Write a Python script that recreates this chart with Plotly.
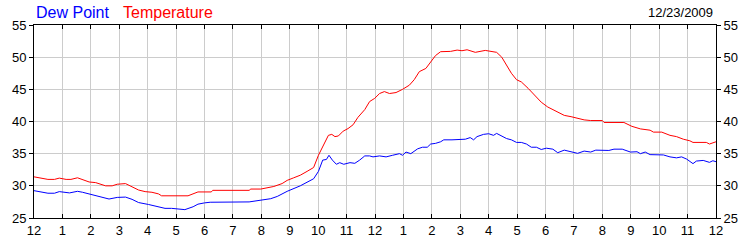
import plotly.graph_objects as go

# ---- data (hours since midnight, values in °F) ----
temp_hours = [0.0, 0.31, 0.49, 0.72, 0.89, 1.13, 1.30, 1.53, 1.71, 1.94, 2.17, 2.40, 2.52, 2.75,
              2.93, 3.22, 3.45, 3.68, 3.91, 4.15, 4.38, 4.49, 5.42, 5.60, 5.77, 6.24, 6.29, 7.57,
              7.63, 7.98, 8.21, 8.44, 8.73, 8.91, 9.14, 9.37, 9.61, 9.84, 10.01, 10.18, 10.36,
              10.48, 10.59, 10.71, 10.88, 11.05, 11.23, 11.40, 11.64, 11.81, 11.99, 12.16, 12.33,
              12.51, 12.74, 12.97, 13.21, 13.38, 13.56, 13.79, 13.96, 14.13, 14.31, 14.66, 14.89,
              15.06, 15.24, 15.53, 15.88, 16.11, 16.28, 16.46, 16.63, 16.80, 16.98, 17.15, 17.39,
              17.62, 17.85, 18.08, 18.26, 18.43, 18.66, 18.90, 19.13, 19.36, 19.59, 20.00, 20.06,
              20.76, 21.04, 21.34, 21.68, 21.80, 22.09, 22.38, 22.61, 22.85, 23.08, 23.19, 23.66,
              23.77, 24.0]
temperature = [31.4, 31.2, 31.0, 31.0, 31.2, 31.0, 31.0, 31.25, 31.0, 30.6, 30.5, 30.2, 30.0, 30.0,
               30.25, 30.35, 29.9, 29.35, 29.1, 29.0, 28.75, 28.45, 28.45, 28.75, 29.05, 29.05, 29.3, 29.3,
               29.5, 29.5, 29.75, 29.9, 30.35, 30.85, 31.25, 31.65, 32.25, 32.85, 34.75, 36.35, 37.85,
               38.0, 37.65, 37.75, 38.5, 38.9, 39.5, 40.65, 41.85, 43.1, 43.6, 44.35, 44.65,
               44.35, 44.5, 45.0, 45.65, 46.5, 47.75, 48.25, 49.25, 50.25, 50.85, 50.9, 51.1,
               51.0, 51.15, 50.75, 51.05, 50.9, 50.75, 50.0, 48.75, 47.5, 46.5, 46.15, 45.15,
               44.0, 43.0, 42.25, 41.85, 41.35, 40.95, 40.75, 40.5, 40.25, 40.15, 40.15, 39.85,
               39.85, 39.25, 38.85, 38.65, 38.35, 38.35, 37.85, 37.65, 37.25, 37.0, 36.75, 36.75,
               36.5, 36.85]

dew_hours = [0.0, 0.31, 0.49, 0.72, 0.89, 1.25, 1.53, 1.71, 2.05, 2.40, 2.64, 2.93, 3.22, 3.45,
             3.68, 4.03, 4.38, 4.61, 4.84, 5.07, 5.31, 5.60, 5.77, 6.0, 6.2, 7.57, 7.98, 8.33,
             8.56, 8.91, 9.37, 9.66, 9.84, 10.01, 10.16, 10.29, 10.38, 10.50, 10.64, 10.76, 10.90,
             11.12, 11.29, 11.46, 11.64, 11.81, 11.93, 12.16, 12.39, 12.62, 12.86, 12.97, 13.09,
             13.26, 13.50, 13.67, 13.84, 13.96, 14.13, 14.31, 14.42, 14.71, 14.95, 15.18, 15.35,
             15.47, 15.59, 15.82, 16.0, 16.17, 16.28, 16.46, 16.63, 16.80, 16.98, 17.15, 17.33,
             17.50, 17.68, 17.85, 18.03, 18.26, 18.43, 18.66, 18.90, 19.13, 19.36, 19.59, 19.77,
             20.23, 20.41, 20.70, 20.99, 21.22, 21.34, 21.51, 21.68, 21.92, 22.15, 22.38, 22.61,
             22.79, 22.97, 23.19, 23.31, 23.55, 23.77, 23.89, 24.0]
dew_point = [29.25, 29.0, 28.85, 28.85, 29.1, 28.9, 29.15, 29.0, 28.6, 28.15, 27.95, 28.2, 28.25, 27.9,
             27.4, 27.1, 26.7, 26.5, 26.5, 26.45, 26.3, 26.75, 27.15, 27.35, 27.45, 27.5, 27.75, 28.0,
             28.35, 29.15, 30.0, 30.75, 31.1, 32.25, 34.0, 34.1, 34.75, 34.0, 33.35, 33.6, 33.35,
             33.6, 33.5, 34.0, 34.65, 34.65, 34.5, 34.65, 34.5, 34.75, 35.0, 34.75, 35.25,
             35.0, 35.75, 36.0, 36.0, 36.5, 36.6, 36.85, 37.15, 37.15, 37.25, 37.25, 37.5,
             37.15, 37.65, 38.0, 38.1, 37.85, 38.15, 37.75, 37.35, 37.15, 36.75, 36.75, 36.5,
             36.0, 36.0, 35.65, 35.85, 35.7, 35.15, 35.55, 35.35, 35.05, 35.4, 35.25, 35.55,
             35.5, 35.7, 35.7, 35.25, 35.3, 35.0, 35.25, 34.85, 34.8, 34.8, 34.5, 34.35,
             34.5, 34.15, 33.45, 33.85, 33.95, 33.65, 33.9, 33.75]

x_tick_vals = list(range(0, 25))
x_tick_text = ["12", "1", "2", "3", "4", "5", "6", "7", "8", "9", "10", "11",
               "12", "1", "2", "3", "4", "5", "6", "7", "8", "9", "10", "11", "12"]
y_tick_vals = [25, 30, 35, 40, 45, 50, 55]
date_label = "12/23/2009"

FONT = "Liberation Sans, Arial, sans-serif"

fig = go.Figure()
fig.add_trace(go.Scatter(x=dew_hours, y=dew_point, mode="lines", name="Dew Point",
                         line=dict(color="#0000FF", width=1), showlegend=False))
fig.add_trace(go.Scatter(x=temp_hours, y=temperature, mode="lines", name="Temperature",
                         line=dict(color="#FF0000", width=1), showlegend=False))
# invisible trace to drive the right-hand axis
fig.add_trace(go.Scatter(x=[0], y=[25], yaxis="y2", mode="markers",
                         marker=dict(opacity=0), showlegend=False, hoverinfo="skip"))

fig.update_layout(
    width=750, height=250,
    margin=dict(l=31, r=30, t=25, b=25),
    paper_bgcolor="white", plot_bgcolor="white",
    font=dict(family=FONT, size=13, color="black"),
    xaxis=dict(range=[0, 24], tickvals=x_tick_vals, ticktext=x_tick_text,
               showgrid=True, gridcolor="#CCCCCC", gridwidth=1,
               showline=True, linecolor="black", linewidth=1, mirror="ticks",
               ticks="inside", ticklen=4, tickcolor="black", zeroline=False,
               tickfont=dict(size=13)),
    yaxis=dict(range=[25, 55], tickvals=y_tick_vals,
               showgrid=True, gridcolor="#CCCCCC", gridwidth=1,
               showline=True, linecolor="black", linewidth=1, mirror=True,
               ticks="outside", ticklen=4, tickcolor="black", zeroline=False,
               tickfont=dict(size=13)),
    yaxis2=dict(range=[25, 55], tickvals=y_tick_vals, overlaying="y", side="right",
                showgrid=False, showline=True, linecolor="black", linewidth=1,
                ticks="outside", ticklen=4, tickcolor="black", zeroline=False,
                tickfont=dict(size=13)),
    annotations=[
        dict(text="Dew Point", xref="paper", yref="paper", x=0 / 689, y=1.065,
             xanchor="left", yanchor="middle", showarrow=False,
             font=dict(family=FONT, size=16, color="#0000FF")),
        dict(text="Temperature", xref="paper", yref="paper", x=88 / 689, y=1.065,
             xanchor="left", yanchor="middle", showarrow=False,
             font=dict(family=FONT, size=16, color="#FF0000")),
        dict(text=date_label, xref="paper", yref="paper", x=688 / 689, y=1.065,
             xanchor="right", yanchor="middle", showarrow=False,
             font=dict(family=FONT, size=13, color="black")),
    ],
)

fig.write_html("out.html")
